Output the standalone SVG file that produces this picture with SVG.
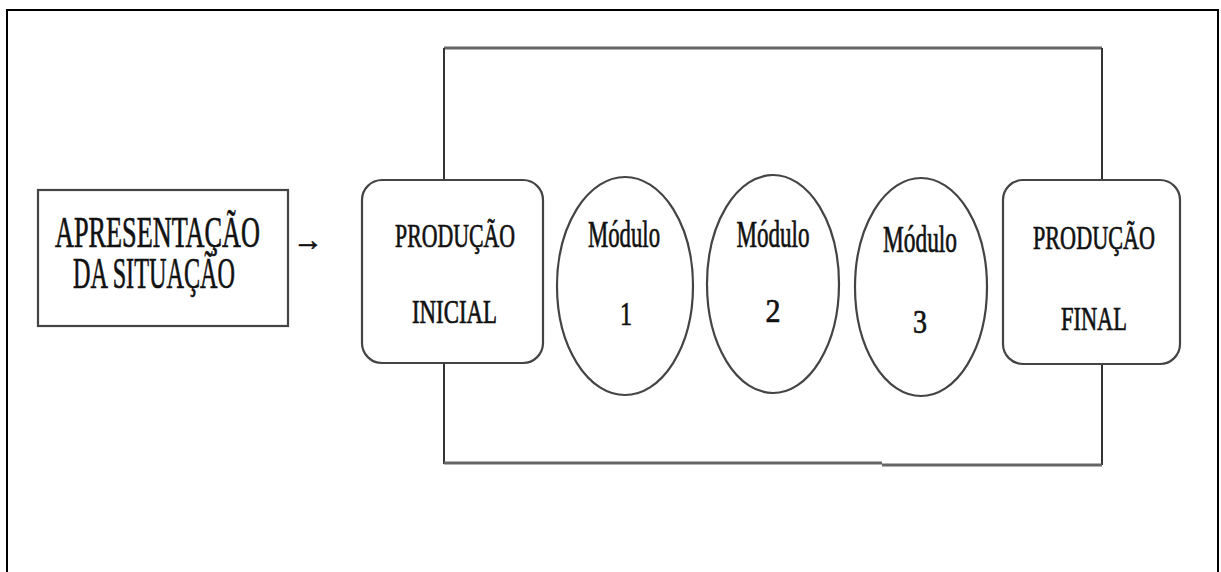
<svg xmlns="http://www.w3.org/2000/svg" width="1221" height="572" viewBox="0 0 1221 572">
  <style>
    .frame { fill: none; stroke: #000; stroke-width: 2; }
    .wire { fill: none; stroke: #333; stroke-width: 2; }
    .wire-top { fill: none; stroke: #666; stroke-width: 3; }
    .box { fill: #fff; stroke: #444; stroke-width: 2.2; }
    text { font-family: 'Liberation Serif', 'Times New Roman', 'DejaVu Serif', serif; fill: #111; text-anchor: middle; stroke: #111; stroke-width: 0.7; }
    .big { font-size: 44px; }
    .mid { font-size: 33px; }
    .mod { font-size: 37px; }
  </style>

  <rect x="0" y="0" width="1221" height="572" fill="#fff"/>

  <!-- page frame, open at the bottom -->
  <path class="frame" d="M7,572 V10 H1218 V572"/>

  <!-- loop that encloses the production sequence -->
  <g id="connectors">
    <line class="wire-top" x1="444" y1="48" x2="1102" y2="48"/>
    <line class="wire" x1="444" y1="48" x2="444" y2="464"/>
    <line class="wire" x1="1102" y1="48" x2="1102" y2="465"/>
    <line class="wire-top" x1="444" y1="463" x2="882" y2="463"/>
    <line class="wire-top" x1="882" y1="465" x2="1102" y2="465"/>
    <text x="308" y="250" font-size="30" stroke-width="0.3">→</text>
  </g>

  <g id="apresentacao">
    <rect class="box" x="38" y="190" width="250" height="136"/>
    <text class="big" x="157.5" y="247" textLength="205" lengthAdjust="spacingAndGlyphs">APRESENTAÇÃO</text>
    <text class="big" x="154" y="288" textLength="162" lengthAdjust="spacingAndGlyphs">DA SITUAÇÃO</text>
  </g>

  <g id="producao-inicial">
    <rect class="box" x="362" y="180" width="181" height="183" rx="20" ry="20"/>
    <text class="mid" x="455" y="247" textLength="120" lengthAdjust="spacingAndGlyphs">PRODUÇÃO</text>
    <text class="mid" x="454.5" y="323" textLength="85" lengthAdjust="spacingAndGlyphs">INICIAL</text>
  </g>

  <g id="modulo-1">
    <ellipse class="box" cx="625" cy="286" rx="68" ry="109"/>
    <text class="mod" x="624" y="247" textLength="72" lengthAdjust="spacingAndGlyphs">Módulo</text>
    <text class="mid" x="626" y="325" textLength="12" lengthAdjust="spacingAndGlyphs">1</text>
  </g>

  <g id="modulo-2">
    <ellipse class="box" cx="773" cy="284" rx="66" ry="109"/>
    <text class="mod" x="773" y="247" textLength="73" lengthAdjust="spacingAndGlyphs">Módulo</text>
    <text class="mid" x="773" y="322" textLength="15" lengthAdjust="spacingAndGlyphs">2</text>
  </g>

  <g id="modulo-3">
    <ellipse class="box" cx="921" cy="287" rx="66" ry="109"/>
    <text class="mod" x="920" y="252" textLength="74" lengthAdjust="spacingAndGlyphs">Módulo</text>
    <text class="mid" x="920" y="333" textLength="14" lengthAdjust="spacingAndGlyphs">3</text>
  </g>

  <g id="producao-final">
    <rect class="box" x="1003" y="180" width="177" height="184" rx="20" ry="20"/>
    <text class="mid" x="1094" y="249" textLength="122" lengthAdjust="spacingAndGlyphs">PRODUÇÃO</text>
    <text class="mid" x="1094" y="330" textLength="66" lengthAdjust="spacingAndGlyphs">FINAL</text>
  </g>
</svg>
